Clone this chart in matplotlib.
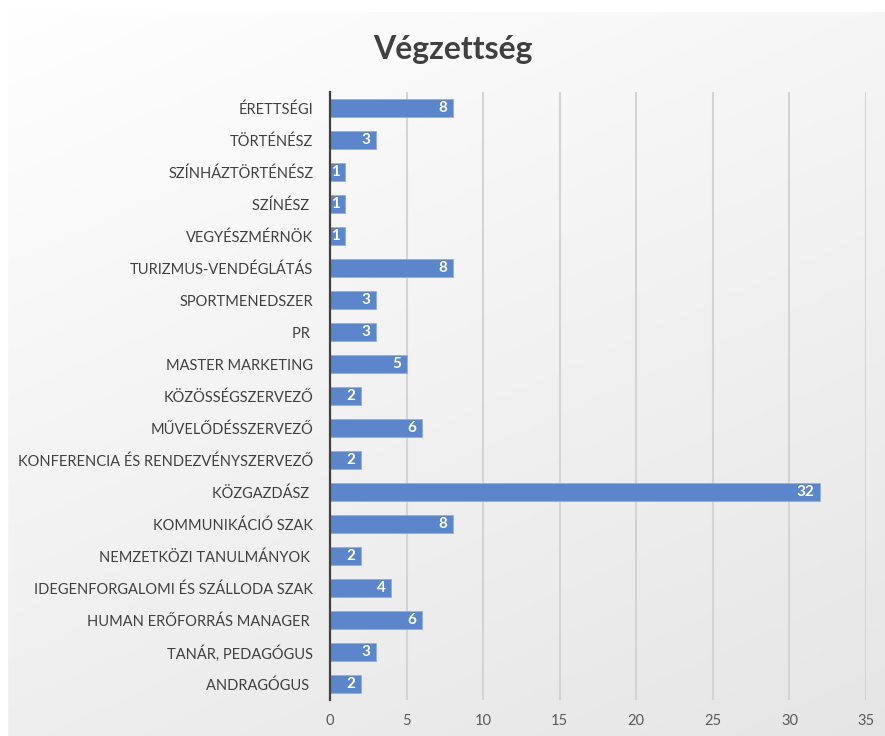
import matplotlib
matplotlib.use("Agg")
import matplotlib.pyplot as plt
import numpy as np
from matplotlib.patches import Rectangle

categories = ["ÉRETTSÉGI", "TÖRTÉNÉSZ", "SZÍNHÁZTÖRTÉNÉSZ", "SZÍNÉSZ ", "VEGYÉSZMÉRNÖK",
              "TURIZMUS-VENDÉGLÁTÁS", "SPORTMENEDSZER", "PR ", "MASTER MARKETING",
              "KÖZÖSSÉGSZERVEZŐ", "MŰVELŐDÉSSZERVEZŐ", "KONFERENCIA ÉS RENDEZVÉNYSZERVEZŐ",
              "KÖZGAZDÁSZ ", "KOMMUNIKÁCIÓ SZAK", "NEMZETKÖZI TANULMÁNYOK ",
              "IDEGENFORGALOMI ÉS SZÁLLODA SZAK", "HUMAN ERŐFORRÁS MANAGER ",
              "TANÁR, PEDAGÓGUS", "ANDRAGÓGUS "]
values = [8, 3, 1, 1, 1, 8, 3, 3, 5, 2, 6, 2, 32, 8, 2, 4, 6, 3, 2]
xticks = [0, 5, 10, 15, 20, 25, 30, 35]
title = "Végzettség"

plt.rcParams['font.family'] = ['Lato', 'DejaVu Sans']

W, H = 885, 736
fig = plt.figure(figsize=(W / 100, H / 100), dpi=100)

# gradient background
bg = fig.add_axes([0, 0, 1, 1], zorder=-10)
yy, xx = np.mgrid[0:1:200j, 0:1:200j]
g = 1.0 - 0.10 * np.clip((0.35 * xx + 0.65 * yy), 0, 1)
bg.imshow(np.dstack([g, g, g]), extent=[0, 1, 0, 1], aspect='auto', origin='upper')
bg.set_xlim(0, 1); bg.set_ylim(0, 1)
bg.axis('off')
bg.add_patch(Rectangle((7 / W, -0.01), 1.0, 1 - 11 / H + 0.01, fill=False,
                       edgecolor='#d0d0d0', linewidth=1.2, transform=bg.transAxes))
bg.add_patch(Rectangle((0, 1 - 11 / H), 1, 11 / H, color='white', transform=bg.transAxes))
bg.add_patch(Rectangle((0, 0), 7 / W, 1, color='white', transform=bg.transAxes))

left, right = 330 / W, 866 / W
bottom, top = 1 - 700 / H, 1 - 92 / H
ax = fig.add_axes([left, bottom, right - left, top - bottom])
ax.patch.set_alpha(0)

y = np.arange(len(categories))
ax.barh(y, values, height=0.56, color='#5b86cb', edgecolor='#8fb0e0', linewidth=0.6, zorder=3)
for yi, v in zip(y, values):
    ax.text(v - 0.35, yi, str(v), ha='right', va='center', color='white',
            fontsize=11, fontweight='bold', zorder=4)

ax.set_ylim(len(categories) - 0.5, -0.5)
ax.set_xlim(0, 35)
ax.set_xticks(xticks)
ax.set_yticks(y)
ax.set_yticklabels(categories)
ax.xaxis.grid(True, color='#d4d4d4', linewidth=1.5, zorder=0)
ax.set_axisbelow(True)
for s in ['top', 'right', 'bottom']:
    ax.spines[s].set_visible(False)
ax.spines['left'].set_color('#404040')
ax.spines['left'].set_linewidth(1.6)
ax.spines['left'].set_zorder(5)
ax.tick_params(axis='both', length=0, colors='#404040', labelsize=10.5)
ax.tick_params(axis='y', pad=12)
ax.tick_params(axis='x', pad=10, labelcolor='#595959')

fig.text(453 / W, 1 - 50 / H, title, ha='center', va='center', fontsize=23,
         fontweight='bold', color='#404040')

fig.savefig('out.png', dpi=100)
